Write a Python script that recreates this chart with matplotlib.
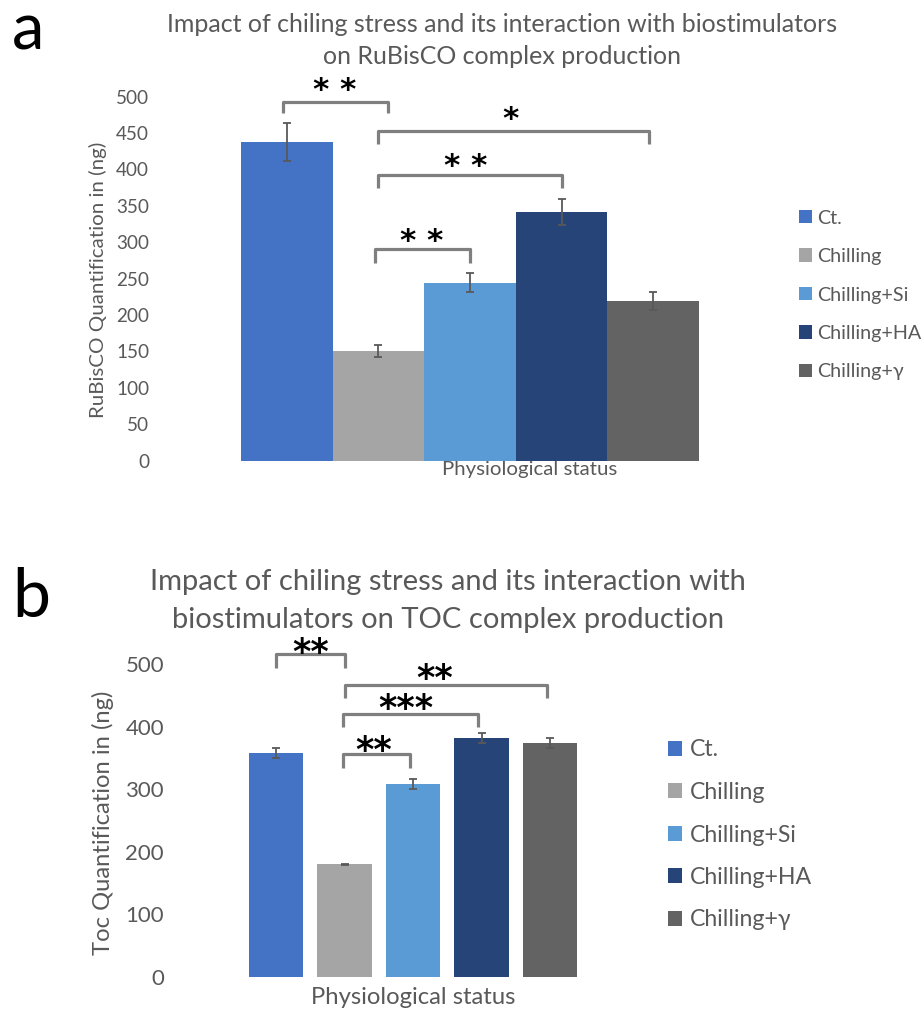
import matplotlib
matplotlib.use("Agg")
import matplotlib.pyplot as plt
from matplotlib.patches import Patch
from matplotlib.textpath import TextPath
from matplotlib.font_manager import FontProperties

FAMILY = ['Lato', 'DejaVu Sans']
plt.rcParams['font.family'] = FAMILY

# ---------------- data ----------------
groups = ["Ct.", "Chilling", "Chilling+Si", "Chilling+HA", "Chilling+\u03b3"]
colors = ["#4472C4", "#A5A5A5", "#5B9BD5", "#264478", "#636363"]

rubisco_values = [438, 150, 244, 341, 219]
rubisco_errors = [26, 8, 13, 18, 12]

toc_values = [358, 180, 308, 381, 374]
toc_errors = [8, 1, 8, 8, 8]

yticks_a = [0, 50, 100, 150, 200, 250, 300, 350, 400, 450, 500]
yticks_b = [0, 100, 200, 300, 400, 500]

# significance brackets: (left bar, right bar, bracket top, leg bottom, stars, star x, star y)
sig_a = [(-0.04, 1.10, 493, 478, "* *", 0.52, 519),
         (1.0, 3.95, 452, 435, "*", 2.44, 478),
         (1.0, 3.0, 392, 374, "* *", 1.95, 414),
         (0.96, 2.0, 291, 271, "* *", 1.47, 311)]
sig_b = [(0.0, 1.0, 516, 494, "**", 0.51, 531),
         (1.0, 3.95, 466, 446, "**", 2.32, 488),
         (0.98, 2.95, 420, 399, "***", 1.89, 440),
         (0.98, 1.96, 356, 334, "**", 1.42, 373)]

W, H = 924, 1011
fig = plt.figure(figsize=(W / 100, H / 100), dpi=100)
fig.patch.set_facecolor("white")
renderer = fig.canvas.get_renderer()

TXT = "#595959"


def fx(x):
    return x / W


def fy(y):
    return 1 - y / H


def fit(txt, target, vertical=False):
    for _ in range(4):
        bb = txt.get_window_extent(renderer)
        cur = bb.height if vertical else bb.width
        txt.set_fontsize(txt.get_fontsize() * target / cur)
    return txt.get_fontsize()


def size_for(s, target):
    t = fig.text(0, 0, s, fontsize=12)
    fs = fit(t, target)
    t.remove()
    return fs


def make_axes(left, right, top, bottom):
    return fig.add_axes([fx(left), fy(bottom), (right - left) / W, (bottom - top) / H])


def style(ax, ticks, fs, pad_px):
    for s in ax.spines.values():
        s.set_visible(False)
    ax.set_xticks([])
    ax.set_yticks(ticks)
    ax.set_yticklabels([str(t) for t in ticks])
    ax.tick_params(axis="y", length=0, labelsize=fs, labelcolor=TXT, pad=pad_px * 0.72)
    ax.set_ylim(0, 500)
    ax.set_xlim(-0.5, 4.5)


STAR_PROP = FontProperties(family="DejaVu Sans", weight="bold")


def brackets(ax, sig, star_w_px):
    probe = TextPath((0, 0), "*", size=10, prop=STAR_PROP).get_extents()
    fs = 10 * (star_w_px * 0.72) / probe.width
    for x1, x2, ytop, ybot, lab, tx, ty in sig:
        ax.plot([x1, x1, x2, x2], [ybot, ytop, ytop, ybot], color="#7F7F7F",
                lw=2.3, solid_joinstyle="round", solid_capstyle="butt", clip_on=False)
        e = TextPath((0, 0), lab, size=fs, prop=STAR_PROP).get_extents()
        xc = (e.x0 + e.x1) / 2
        yc = (e.y0 + e.y1) / 2
        ax.annotate(lab, (tx, ty), xytext=(-xc, -yc), textcoords="offset points",
                    ha="left", va="baseline", fontsize=fs, color="black",
                    fontproperties=STAR_PROP, annotation_clip=False)


def legend(left_px, first_px, last_px, text_w, square_px, gap_px):
    fs = size_for("Chilling+HA", text_w)
    em = fs / 0.72
    pitch = (last_px - first_px) / 4
    handles = [Patch(facecolor=c, edgecolor="none") for c in colors]
    ls = 0.8
    for _ in range(3):
        leg = fig.legend(handles, groups, loc="center left",
                         bbox_to_anchor=(fx(left_px), fy((first_px + last_px) / 2)),
                         bbox_transform=fig.transFigure, frameon=False, fontsize=fs,
                         labelcolor=TXT, handlelength=square_px / em,
                         handleheight=square_px / em, handletextpad=gap_px / em,
                         labelspacing=ls, borderpad=0, borderaxespad=0)
        fig.canvas.draw()
        ts = leg.get_texts()
        y_first = ts[0].get_window_extent(renderer).y0
        y_last = ts[-1].get_window_extent(renderer).y0
        cur = (y_first - y_last) / 4
        ls = ls + (pitch - cur) / em
        leg.remove()
    fig.legend(handles, groups, loc="center left",
               bbox_to_anchor=(fx(left_px), fy((first_px + last_px) / 2)),
               bbox_transform=fig.transFigure, frameon=False, fontsize=fs,
               labelcolor=TXT, handlelength=square_px / em,
               handleheight=square_px / em, handletextpad=gap_px / em,
               labelspacing=ls, borderpad=0, borderaxespad=0)


xa = list(range(len(groups)))

# ---------------- panel a ----------------
axa = make_axes(241, 699, 96.5, 460.5)
style(axa, yticks_a, size_for("500", 33), 241 - 149)
axa.bar(xa, rubisco_values, width=1.0, color=colors)
axa.errorbar(xa, rubisco_values, yerr=rubisco_errors, fmt="none", ecolor=TXT,
             elinewidth=1.3, capsize=3, capthick=1.3)
brackets(axa, sig_a, 15)

t1 = fig.text(fx(502), fy(25), "Impact of chiling stress and its interaction with biostimulators",
              ha="center", va="center", fontsize=14, color=TXT)
fs_ta = fit(t1, 669)
fig.text(fx(502), fy(57), "on RuBisCO complex production",
         ha="center", va="center", fontsize=fs_ta, color=TXT)
yl = fig.text(fx(98), fy(279.5), "RuBisCO Quantification in (ng)", rotation=90,
              ha="center", va="center", fontsize=13, color=TXT)
fit(yl, 275, vertical=True)
xl = fig.text(fx(530), fy(470), "Physiological status", ha="center", va="center",
              fontsize=13, color=TXT)
fit(xl, 175)
fig.text(fx(12), fy(50), "a", ha="left", va="baseline", fontsize=47, color="black")

legend(799, 218, 372, 105, 13, 5)

# ---------------- panel b ----------------
axb = make_axes(241.75, 584.25, 664, 976.7)
style(axb, yticks_b, size_for("500", 38.7), 241.75 - 164)
axb.bar(xa, toc_values, width=0.79, color=colors)
axb.errorbar(xa, toc_values, yerr=toc_errors, fmt="none", ecolor=TXT,
             elinewidth=1.3, capsize=3, capthick=1.3)
brackets(axb, sig_b, 17)

t2 = fig.text(fx(448), fy(582), "Impact of chiling stress and its interaction with",
              ha="center", va="center", fontsize=16, color=TXT)
fs_tb = fit(t2, 595)
fig.text(fx(448), fy(620), "biostimulators on TOC complex production",
         ha="center", va="center", fontsize=fs_tb, color=TXT)
yl2 = fig.text(fx(103), fy(822.5), "Toc Quantification in (ng)", rotation=90,
               ha="center", va="center", fontsize=15, color=TXT)
fit(yl2, 265, vertical=True)
xl2 = fig.text(fx(413), fy(998), "Physiological status", ha="center", va="center",
               fontsize=15, color=TXT)
fit(xl2, 205)
fig.text(fx(12), fy(617), "b", ha="left", va="baseline", fontsize=49, color="black")

legend(668, 750, 920, 122, 14, 8)

fig.savefig("out.png", dpi=100, facecolor="white")
